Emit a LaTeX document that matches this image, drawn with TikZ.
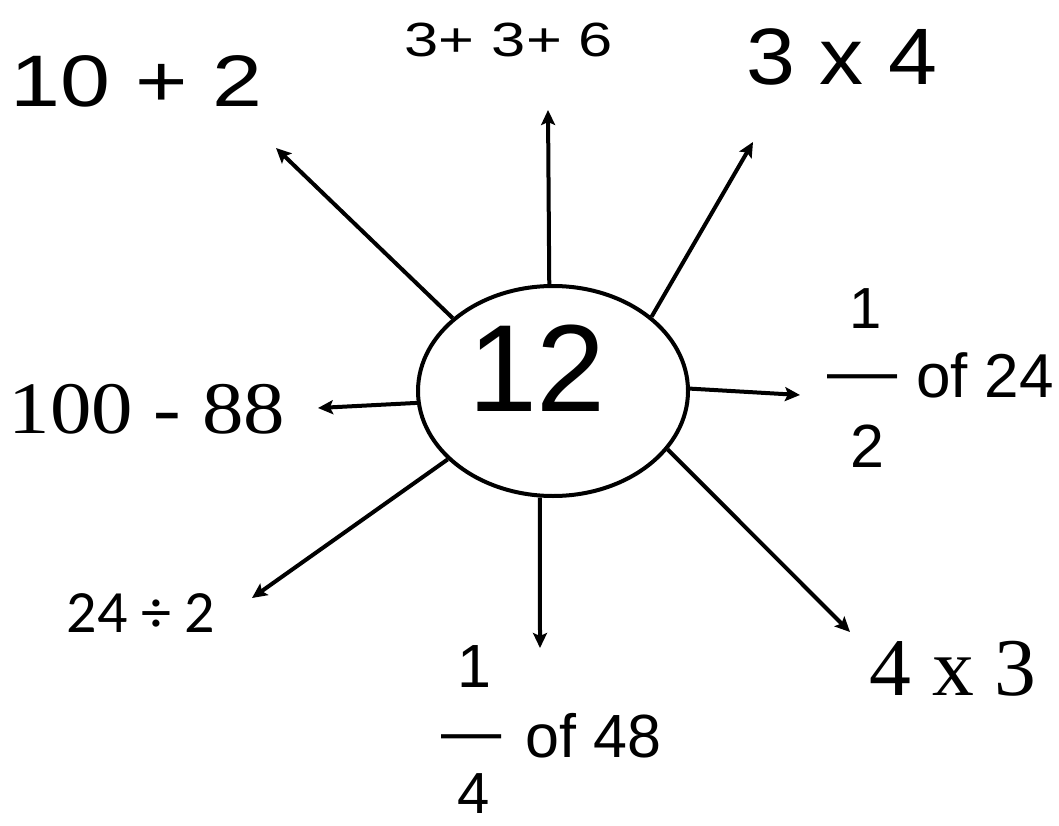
\documentclass[tikz,border=0pt]{standalone}
\usepackage{fontspec}
\setmainfont{Liberation Sans}
\newfontfamily\serifF{Liberation Serif}
\newfontfamily\caliF{Carlito}
\usetikzlibrary{arrows.meta,shapes.geometric}
\begin{document}
\begin{tikzpicture}[x=1pt,y=-1pt,
  lbl/.style={inner sep=0pt,anchor=base},
  arr/.style={line width=4pt,-{Stealth[length=15pt,width=14pt,inset=3pt]}},
  hub/.style={draw,ellipse,line width=4pt,minimum width=270pt,minimum height=210pt,inner sep=0pt}]
\useasboundingbox (0,0) rectangle (1059,826);
\fill[white] (0,0) rectangle (1059,826);
\node[hub] (c) at (553,391) {};
\node[lbl] (n12) at (537,411) {\fontsize{124}{124}\selectfont 12};
% tips
\coordinate (t1) at (276,148);
\coordinate (t2) at (548,110);
\coordinate (t3) at (753,142);
\coordinate (t4) at (800,395);
\coordinate (t5) at (850,632);
\coordinate (t6) at (540,648);
\coordinate (t7) at (252,598);
\coordinate (t8) at (318,408);
\draw[arr] (c.144.3) -- (t1);
\draw[arr] (c.92.7) -- (t2);
\draw[arr] (c.37.2) -- (t3);
\draw[arr] (c.1.2) -- (t4);
\draw[arr] (c.-27.3) -- (t5);
\draw[arr] (c.263.2) -- (t6);
\draw[arr] (c.213.7) -- (t7);
\draw[arr] (c.185) -- (t8);
% labels
\node[lbl] (l1) at (136.5,107) {\scalebox{1.23}[1]{\fontsize{73}{73}\selectfont 10 + 2}};
\node[lbl] (l2) at (509,57) {\scalebox{1.28}[1]{\fontsize{48}{48}\selectfont 3+ 3+ 6}};
\node[lbl] (l3) at (842,85) {\scalebox{1.1}[1]{\fontsize{80}{80}\selectfont 3 x 4}};
\node[lbl] (l8) at (147,433) {\scalebox{1.12}[1]{\fontsize{74}{74}\serifF\selectfont 100 - 88}};
\node[lbl] (l7) at (141,632) {\fontsize{60}{60}\caliF\selectfont 24 ÷ 2};
\node[lbl] (l5) at (953,695) {\scalebox{1.02}[1]{\fontsize{82}{82}\serifF\selectfont 4 x 3}};
% fraction 1/2 of 24
\node[lbl] (f1n) at (866,328) {\fontsize{58}{58}\selectfont 1};
\node[lbl] (f1b) at (863,392) {\scalebox{1.13}[1]{\fontsize{62}{62}\selectfont —}};
\node[lbl] (f1t) at (985,397) {\fontsize{62}{62}\selectfont of 24};
\node[lbl] (f1d) at (867,467) {\fontsize{61}{61}\selectfont 2};
% fraction 1/4 of 48
\node[lbl] (f2n) at (474,687) {\fontsize{61}{61}\selectfont 1};
\node[lbl] (f2b) at (472,752) {\scalebox{0.97}[1]{\fontsize{62}{62}\selectfont —}};
\node[lbl] (f2t) at (593.5,757) {\fontsize{61}{61}\selectfont of 48};
\node[lbl] (f2d) at (474,813) {\fontsize{58}{58}\selectfont 4};
\end{tikzpicture}
\end{document}
